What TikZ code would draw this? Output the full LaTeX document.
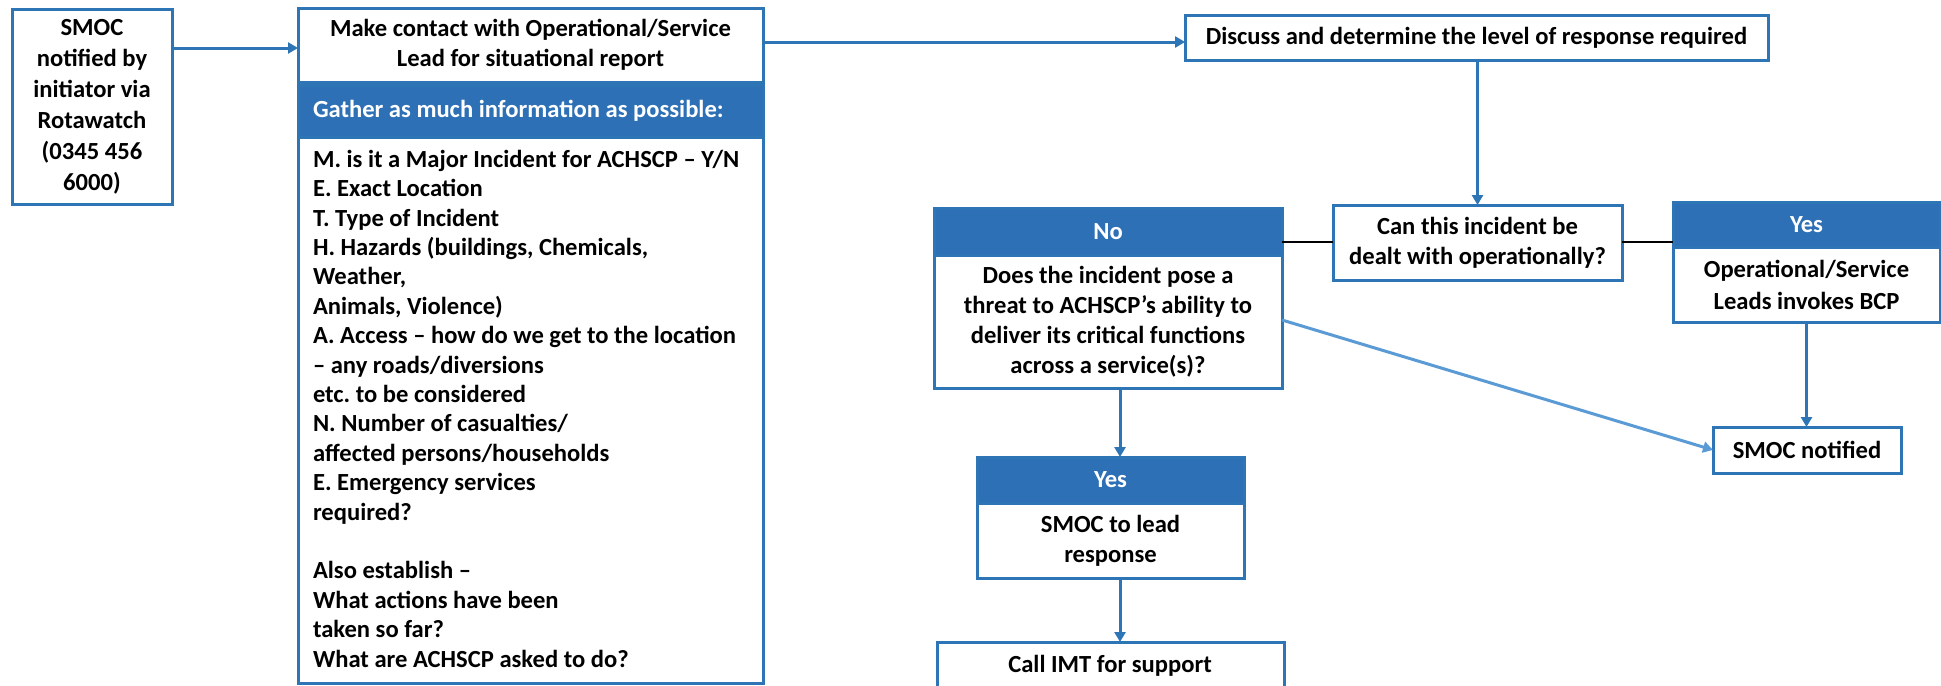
\documentclass[tikz,border=0pt]{standalone}
\usepackage{fontspec}
\setmainfont{Carlito}
\usetikzlibrary{arrows.meta}
\definecolor{bord}{RGB}{46,117,182}
\definecolor{head}{RGB}{46,112,182}
\definecolor{diag}{RGB}{91,155,213}
\newcommand\rbox[7]{\node[#1,minimum width={(#4-#2)*0.5pt},minimum height={(#5-#3)*0.5pt}] (#7) at ({(#2+#4)/2},{(#3+#5)/2}) {#6};}
\tikzset{
  box/.style={draw=bord,line width=1.5pt,fill=white,inner sep=0pt,outer sep=0pt,align=center,
    font=\fontsize{12.3}{15}\selectfont\bfseries},
  hdr/.style={draw=bord,fill=head,line width=1.5pt,inner sep=0pt,outer sep=0pt,text=white,align=center,
    font=\fontsize{12.3}{15}\selectfont\bfseries},
  txt/.style={inner sep=0pt,outer sep=0pt,font=\fontsize{12.3}{15}\selectfont\bfseries},
  arr/.style={draw=bord,line width=1.5pt,-{Triangle[length=5pt,width=5.5pt]}},
  darr/.style={draw=diag,line width=1.5pt,-{Triangle[length=5pt,width=5.5pt]}},
  link/.style={draw=black,line width=1pt},
}
\begin{document}
\begin{tikzpicture}[x=0.5pt,y=-0.5pt]
\useasboundingbox[fill=white] (0,0) rectangle (1941,685);
\clip (0,0) rectangle (1941,685);
% helper coordinates
\coordinate (y48) at (0,48);
\coordinate (y42) at (0,42);
\coordinate (y242) at (0,242);
\coordinate (y320) at (0,320);
\coordinate (x1120) at (1120,0);

\rbox{box,font=\fontsize{12.3}{15.5}\selectfont\bfseries}{12}{9}{172}{204}{SMOC\\notified by\\initiator via\\Rotawatch\\(0345 456\\6000)}{smoc}
\rbox{box}{298}{8}{763}{82}{Make contact with Operational/Service\\Lead for situational report}{contact}
\rbox{hdr}{298}{85}{763}{137}{}{gather}
\node[txt,text=white,anchor=west] (gathertext) at (313,111) {Gather as much information as possible:};
\rbox{box}{298}{137}{763}{683}{}{list}
\node[txt,anchor=north west,align=left,font=\fontsize{12.3}{14.7}\selectfont\bfseries] (listtext) at (313,150) {M. is it a Major Incident for ACHSCP -- Y/N\\
E. Exact Location\\
T. Type of Incident\\
H. Hazards (buildings, Chemicals,\\
Weather,\\
Animals, Violence)\\
A. Access -- how do we get to the location\\
-- any roads/diversions\\
etc.\ to be considered\\
N. Number of casualties/\\
affected persons/households\\
E. Emergency services\\
required?\\[14.7pt]
Also establish --\\
What actions have been\\
taken so far?\\
What are ACHSCP asked to do?};

\rbox{box}{1185}{15}{1768}{60}{Discuss and determine the level of response required}{discuss}
\rbox{box}{1333}{205}{1622}{280}{Can this incident be\\dealt with operationally?}{can}

\rbox{hdr}{934}{208}{1282}{255}{No}{nohead}
\rbox{box}{934}{255}{1282}{388}{Does the incident pose a\\threat to ACHSCP’s ability to\\deliver its critical functions\\across a service(s)?}{nobody}

\rbox{hdr}{1673}{202}{1940}{247}{Yes}{yeshead}
\rbox{box,font=\fontsize{12.3}{16}\selectfont\bfseries}{1673}{247}{1940}{322}{Operational/Service\\Leads invokes BCP}{yesbody}

\rbox{box}{1713}{427}{1901}{473}{SMOC notified}{smocn}

\rbox{hdr}{977}{457}{1244}{503}{Yes}{yestwohead}
\rbox{box}{977}{503}{1244}{578}{SMOC to lead\\response}{yestwobody}

\rbox{box}{937}{642}{1284}{720}{}{imt}
\node[txt] (imttext) at (1110,666) {Call IMT for support};

% connectors
\draw[arr] (smoc.east |- y48) -- (contact.west |- y48);
\draw[arr] (contact.east |- y42) -- (discuss.west |- y42);
\draw[arr] (can.north |- discuss.south) -- (can.north);
\draw[link] (can.west |- y242) -- (nohead.east |- y242);
\draw[link] (can.east |- y242) -- (yeshead.west |- y242);
\draw[arr] (nobody.south -| x1120) -- (yestwohead.north -| x1120);
\draw[arr] (yestwobody.south -| x1120) -- (imt.north -| x1120);
\draw[arr] (yesbody.south) -- (smocn.north -| yesbody.south);
\draw[darr] (nobody.east |- y320) -- (smocn.west);
\end{tikzpicture}
\end{document}
